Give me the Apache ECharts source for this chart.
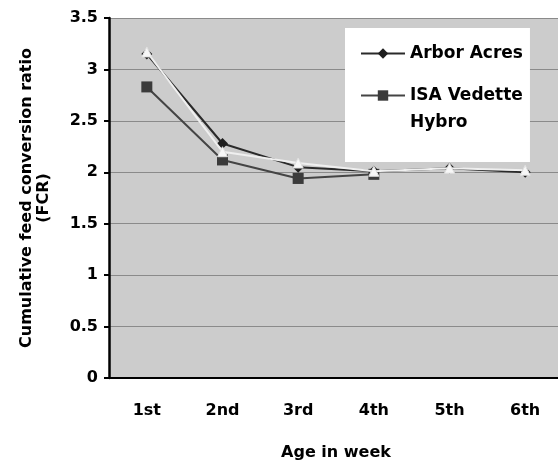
<!DOCTYPE html>
<html>
<head>
<meta charset="utf-8">
<script src="https://cdn.jsdelivr.net/npm/echarts@6/dist/echarts.min.js"></script>
<style>
  html, body { margin: 0; padding: 0; background: #fff; }
  #chart { width: 558px; height: 462px; }
</style>
</head>
<body>
<div id="chart"></div>
<script>
// weeks on the x axis
var weeks = ['1st', '2nd', '3rd', '4th', '5th', '6th'];
// FCR values
var arborAcres = [3.15, 2.28, 2.05, 2.01, 2.04, 2.0];
var isaVedette = [2.83, 2.12, 1.94, 1.98, null, null];
// white triangle series, not in the legend
var thirdLine = [3.17, 2.2, 2.09, 2.01, 2.04, 2.02];
var yTicks = [0, 0.5, 1, 1.5, 2, 2.5, 3, 3.5];

var chart = echarts.init(document.getElementById('chart'));

var FONT = 'DejaVu Sans';
var lblFont = {
  color: '#000',
  fontFamily: FONT,
  fontWeight: 'bold',
  fontSize: 16
};

var option = {
  animation: false,
  grid: {
    left: 109,
    top: 18,
    width: 454,
    height: 360,
    outerBoundsMode: 'none',
    show: true,
    backgroundColor: '#cccccc',
    borderWidth: 0
  },
  legend: {
    data: ['Arbor Acres', 'ISA Vedette Hybro'],
    orient: 'vertical',
    left: 345,
    top: 28,
    backgroundColor: '#fff',
    padding: [12, 7, 26, 15],
    itemWidth: 44,
    itemHeight: 13,
    itemGap: -12,
    formatter: function (name) {
      // blank first line keeps the icon level with "ISA Vedette"
      return name === 'ISA Vedette Hybro' ? '\u00a0\nISA Vedette\nHybro' : name;
    },
    textStyle: {
      color: '#000',
      fontFamily: FONT,
      fontWeight: 'bold',
      fontSize: 17,
      lineHeight: 27
    }
  },
  xAxis: {
    type: 'category',
    data: weeks,
    boundaryGap: true,
    name: 'Age in week',
    nameLocation: 'middle',
    nameGap: 67,
    nameTextStyle: {
      color: '#000',
      fontFamily: FONT,
      fontWeight: 'bold',
      fontSize: 16
    },
    axisLine: { lineStyle: { color: '#000', width: 2 } },
    axisTick: { length: 6, lineStyle: { color: '#000', width: 2 } },
    axisLabel: Object.assign({ margin: 25 }, lblFont),
    splitLine: { show: false }
  },
  yAxis: {
    type: 'value',
    min: 0,
    max: 3.5,
    interval: 0.5,
    name: 'Cumulative feed conversion ratio\n(FCR)',
    nameLocation: 'middle',
    nameRotate: 90,
    nameGap: 57,
    nameTextStyle: {
      color: '#000',
      fontFamily: FONT,
      fontWeight: 'bold',
      fontSize: 16,
      lineHeight: 17
    },
    axisLine: { show: true, lineStyle: { color: '#000', width: 2.5 } },
    axisTick: { show: true, length: 5, lineStyle: { color: '#000', width: 2 } },
    axisLabel: Object.assign({
      margin: 11,
      formatter: function (v) { return yTicks.indexOf(v) >= 0 ? String(v) : ''; }
    }, lblFont),
    splitLine: { lineStyle: { color: '#8a8a8a', width: 1 } }
  },
  series: [
    {
      name: 'ISA Vedette Hybro',
      type: 'line',
      data: isaVedette,
      symbol: 'rect',
      symbolSize: 11,
      itemStyle: { color: '#3b3b3b' },
      lineStyle: { color: '#444', width: 2 },
      z: 2
    },
    {
      name: 'Arbor Acres',
      type: 'line',
      data: arborAcres,
      symbol: 'diamond',
      symbolSize: 11,
      itemStyle: { color: '#1e1e1e' },
      lineStyle: { color: '#2a2a2a', width: 2 },
      z: 3
    },
    {
      name: 'third',
      type: 'line',
      data: thirdLine,
      symbol: 'triangle',
      symbolSize: 10,
      itemStyle: { color: '#f7f7f7', borderColor: '#e0e0e0', borderWidth: 1 },
      lineStyle: { color: '#efefef', width: 2 },
      z: 4
    }
  ]
};

chart.setOption(option);
</script>
</body>
</html>
